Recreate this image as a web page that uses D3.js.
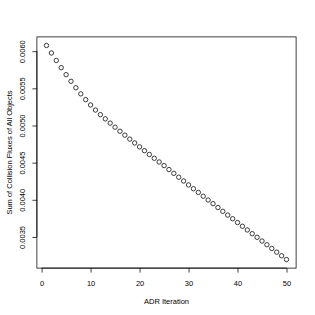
<!DOCTYPE html>
<html>
    <head>
        <meta charset="utf-8">
        <title>ADR flux</title>
        <style>
            body{
                margin:0;
                background:white;
            }
            .tick text{
                font-family: "Liberation Sans", Arial, sans-serif;
            }
        </style>
    </head>
    <body>
        <div id="chart"></div>
        <script src="https://cdn.jsdelivr.net/npm/d3@7"></script>
        <script type="text/javascript">

        // iteration number and summed collision flux
        var iterations = d3.range(1, 51);
        var fluxSum = [
            0.006077, 0.005976, 0.005875, 0.005778, 0.005684,
            0.005595, 0.005508, 0.005426, 0.005348, 0.005276,
            0.005208, 0.005146, 0.005089, 0.005032, 0.004977,
            0.004923, 0.004870, 0.004817, 0.004765, 0.004712,
            0.004661, 0.004610, 0.004559, 0.004509, 0.004460,
            0.004407, 0.004356, 0.004304, 0.004253, 0.004200,
            0.004149, 0.004099, 0.004048, 0.003997, 0.003948,
            0.003896, 0.003845, 0.003794, 0.003745, 0.003694,
            0.003644, 0.003594, 0.003544, 0.003495, 0.003445,
            0.003395, 0.003345, 0.003296, 0.003246, 0.003196
        ];
        var xTicks = [0, 10, 20, 30, 40, 50];
        var yTicks = [0.0035, 0.0040, 0.0045, 0.0050, 0.0055, 0.0060];

        var width = 315;
        var height = 315;
        // plot box edges ("top" is taken by window, so prefix them)
        var boxLeft = 36.9, boxRight = 296.1, boxTop = 36.9, boxBottom = 268.1;
        var fontSize = 7.5;

        var svg = d3.select("#chart")
                    .append("svg")
                    .attr("width", width)
                    .attr("height", height);

        // R style 4% padding on both axes
        var xMin = d3.min(iterations), xMax = d3.max(iterations);
        var xPad = (xMax - xMin) * 0.04;
        var xScale = d3.scaleLinear()
                        .domain([xMin - xPad, xMax + xPad])
                        .range([boxLeft, boxRight]);

        var yMin = d3.min(fluxSum), yMax = d3.max(fluxSum);
        var yPad = (yMax - yMin) * 0.04;
        var yScale = d3.scaleLinear()
                        .domain([yMin - yPad, yMax + yPad])
                        .range([boxBottom, boxTop]);

        //-----------------axes---------------------------------------
        var xAxis = d3.axisBottom(xScale)
                        .tickValues(xTicks)
                        .tickSizeInner(4.5)
                        .tickSizeOuter(0)
                        .tickPadding(8);

        var gx = svg.append("g")
                    .attr("transform", "translate(0," + boxBottom + ")")
                    .call(xAxis);
        gx.select(".domain")
            .attr("d", "M" + xScale(xTicks[0]) + ",0H" + xScale(xTicks[xTicks.length - 1]))
            .attr("stroke-width", 0.75);
        gx.selectAll(".tick line").attr("stroke-width", 0.75);
        gx.selectAll(".tick text")
            .attr("font-size", fontSize)
            .attr("fill", "black");

        var yAxis = d3.axisLeft(yScale)
                        .tickValues(yTicks)
                        .tickFormat(d3.format(".4f"))
                        .tickSizeInner(4.5)
                        .tickSizeOuter(0);

        var gy = svg.append("g")
                    .attr("transform", "translate(" + boxLeft + ",0)")
                    .call(yAxis);
        gy.select(".domain")
            .attr("d", "M0," + yScale(yTicks[0]) + "V" + yScale(yTicks[yTicks.length - 1]))
            .attr("stroke-width", 0.75);
        gy.selectAll(".tick line").attr("stroke-width", 0.75);
        // rotated tick labels, like las=0 in R
        gy.selectAll(".tick text")
            .attr("font-size", fontSize)
            .attr("fill", "black")
            .attr("x", null)
            .attr("dy", null)
            .attr("text-anchor", "middle")
            .attr("transform", "translate(-11.5,0) rotate(-90)");

        //-----------------box----------------------------------------
        svg.append("rect")
            .attr("x", boxLeft)
            .attr("y", boxTop)
            .attr("width", boxRight - boxLeft)
            .attr("height", boxBottom - boxTop)
            .attr("fill", "none")
            .attr("stroke", "black")
            .attr("stroke-width", 0.75);

        //-----------------points-------------------------------------
        svg.selectAll("circle.pt")
            .data(fluxSum)
            .enter()
            .append("circle")
            .attr("class", "pt")
            .attr("cx", function(d, i){ return xScale(iterations[i]); })
            .attr("cy", function(d){ return yScale(d); })
            .attr("r", 2.2)
            .attr("fill", "none")
            .attr("stroke", "black")
            .attr("stroke-width", 0.75);

        //-----------------titles-------------------------------------
        svg.append("text")
            .text("ADR Iteration")
            .attr("font-family", "Liberation Sans, Arial, sans-serif")
            .attr("font-size", fontSize)
            .attr("text-anchor", "middle")
            .attr("x", (boxLeft + boxRight) / 2)
            .attr("y", 303.5);

        svg.append("text")
            .text("Sum of Collision Fluxes of All Objects")
            .attr("font-family", "Liberation Sans, Arial, sans-serif")
            .attr("font-size", fontSize)
            .attr("text-anchor", "middle")
            .attr("transform", "translate(12," + ((boxTop + boxBottom) / 2) + ") rotate(-90)");

        </script>
    </body>
</html>
